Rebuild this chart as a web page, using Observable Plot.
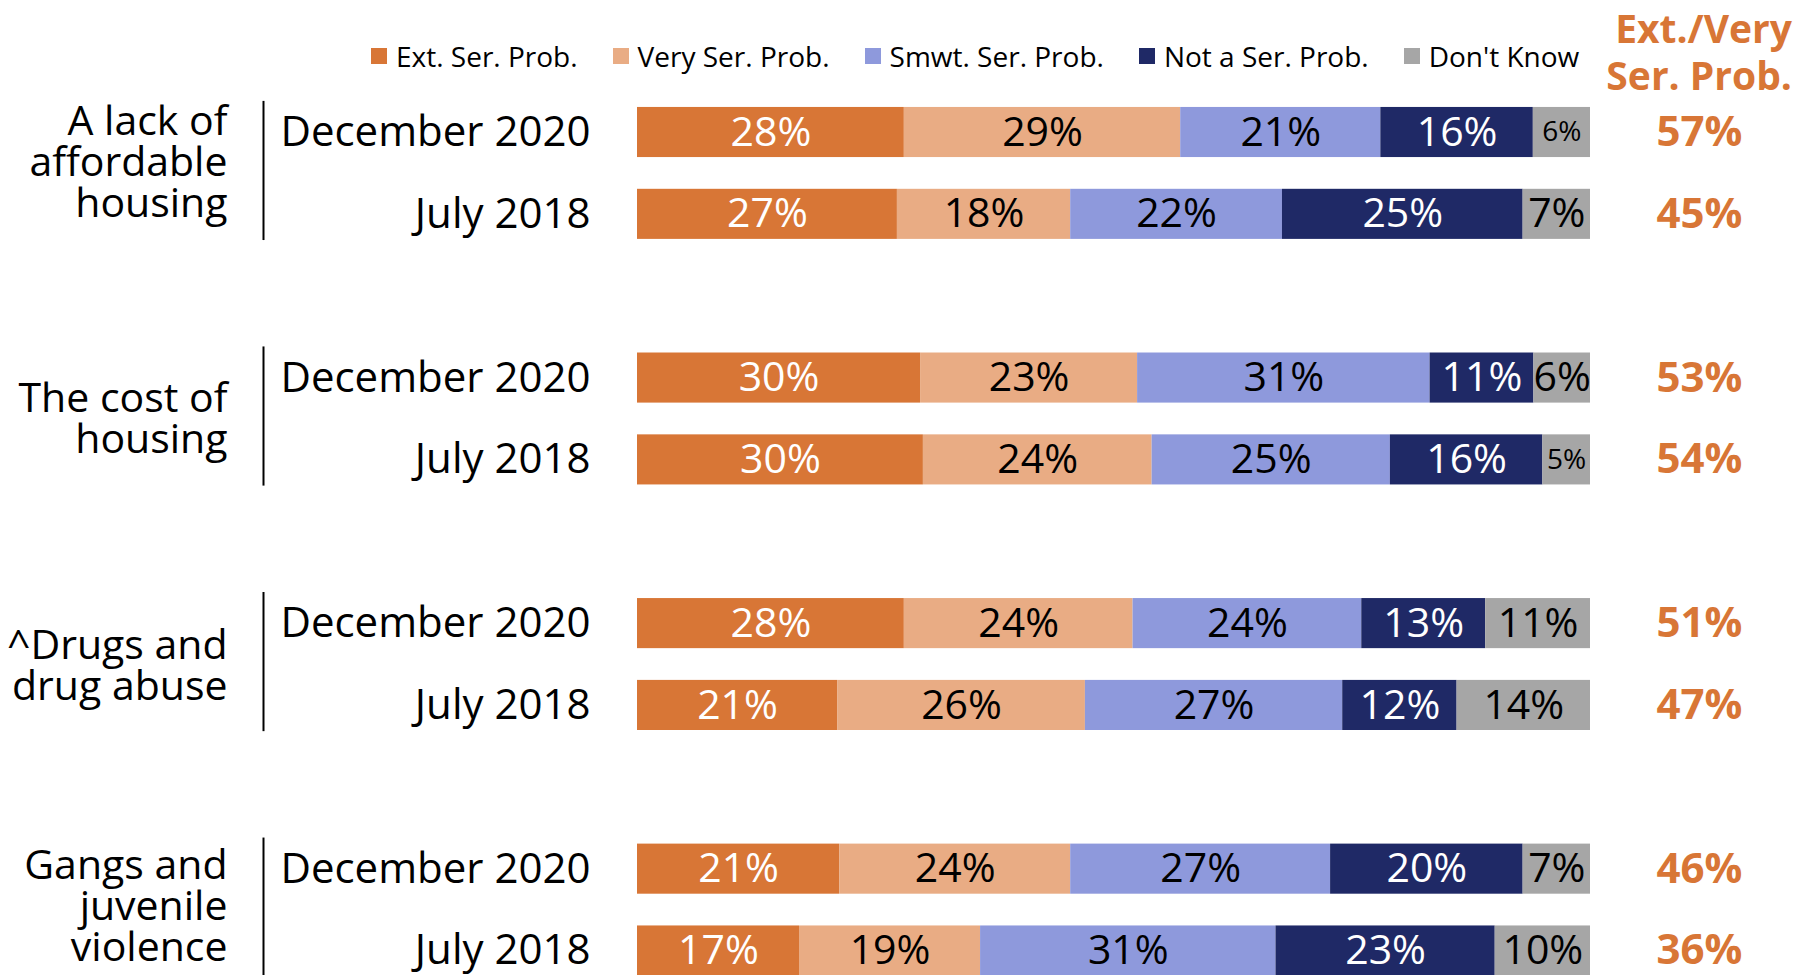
<!DOCTYPE html>
<html><head><meta charset="utf-8">
<script src="https://cdn.jsdelivr.net/npm/d3@7"></script>
<script src="https://cdn.jsdelivr.net/npm/@observablehq/plot@0.6"></script>
<style>
body{margin:0;background:#fff;font-family:"Open Sans",sans-serif;}
#wrap{position:relative;width:1800px;height:975px;overflow:hidden;}
#chart{position:absolute;left:0;top:0;}
#legend{position:absolute;left:371px;top:37px;display:flex;align-items:center;gap:35px;font-size:28px;line-height:38px;color:#000;}
.item{display:flex;align-items:center;white-space:nowrap;}
.sw{width:16px;height:16px;margin-right:9px;flex:none;}
#hdr{position:absolute;right:8px;top:4px;text-align:right;font-weight:700;font-size:39px;line-height:47px;color:#D87636;}
</style></head><body>
<div id="wrap"><div id="chart"></div><div id="legend"></div><div id="hdr">Ext./Very<br>Ser. Prob.</div></div>
<script>
// ---- data ----
const categories = ["A lack of\naffordable\nhousing", "The cost of\nhousing", "^Drugs and\ndrug abuse", "Gangs and\njuvenile\nviolence"];
const waves = ["December 2020", "July 2018"];
const series = ["Ext. Ser. Prob.", "Very Ser. Prob.", "Smwt. Ser. Prob.", "Not a Ser. Prob.", "Don't Know"];
// rows in order: cat0 Dec, cat0 Jul, cat1 Dec, cat1 Jul, ...
const extSer  = [28, 27, 30, 30, 28, 21, 21, 17];
const verySer = [29, 18, 23, 24, 24, 26, 24, 19];
const smwtSer = [21, 22, 31, 25, 24, 27, 27, 31];
const notSer  = [16, 25, 11, 16, 13, 12, 20, 23];
const dontKnow = [6, 7, 6, 5, 11, 14, 7, 10];
const extVery = [57, 45, 53, 54, 51, 47, 46, 36];

// ---- styles ----
const colors = ["#D87636", "#E9AC84", "#8E99DC", "#1F2966", "#A6A6A6"];
const labelColors = ["white", "black", "black", "white", "black"];
const smallLabels = new Set(["0-4", "3-4"]); // row-series with shrunk label
const orange = "#D87636";
const catLabelDy = [-11, 0, 2, -3];

// ---- build table ----
const valueSets = [extSer, verySer, smwtSer, notSer, dontKnow];
const rows = [];
const segs = [];
for (let r = 0; r < extSer.length; r++) {
  const g = Math.floor(r / 2), w = r % 2;
  const pos = g * 3 + w;
  rows.push({row: r, pos, wave: waves[w], total: extVery[r]});
  const vals = valueSets.map(v => v[r]);
  const sum = d3.sum(vals);
  let acc = 0;
  vals.forEach((v, s) => {
    segs.push({row: r, pos, series: series[s], si: s, value: v, x1: acc / sum, x2: (acc + v) / sum});
    acc += v;
  });
}
const groups = categories.map((c, g) => ({label: c, g, pos: g * 3 + 0.5, p1: g * 3 - 0.38, p2: g * 3 + 1 + 0.32}));

const half = 0.306;
const chart = Plot.plot({
  width: 1800,
  height: 975,
  marginLeft: 637,
  marginRight: 210,
  marginTop: 0,
  marginBottom: 0,
  style: {fontFamily: "Open Sans, sans-serif", background: "white"},
  x: {domain: [0, 1], axis: null},
  y: {domain: [0, 10], range: [132, 950.5], axis: null},
  color: {domain: series, range: colors},
  marks: [
    Plot.rectX(segs, {x1: "x1", x2: "x2", y1: d => d.pos - half, y2: d => d.pos + half, fill: "series"}),
    Plot.text(segs, {
      x: d => (d.x1 + d.x2) / 2, y: "pos", text: d => d.value + "%",
      fill: d => labelColors[d.si],
      fontSize: d => smallLabels.has(d.row + "-" + d.si) ? 28 : 41
    }),
    Plot.text(rows, {y: "pos", text: "wave", frameAnchor: "left", textAnchor: "end", dx: -47, fontSize: 42, fill: "black"}),
    Plot.text(rows, {y: "pos", text: d => d.total + "%", frameAnchor: "right", textAnchor: "middle", dx: 109, fontSize: 42, fontWeight: 700, fill: orange}),
    ...groups.map(gr => Plot.text([gr], {y: "pos", text: "label", frameAnchor: "left", textAnchor: "end", lineAnchor: "middle", lineHeight: 1.0, dx: -410, dy: catLabelDy[gr.g], fontSize: 41, fill: "black"})),
    Plot.ruleX(groups, {x: d => 0, y1: "p1", y2: "p2", dx: -374, stroke: "black", strokeWidth: 2})
  ]
});
document.getElementById("chart").appendChild(chart);

// legend
const leg = document.getElementById("legend");
series.forEach((s, i) => {
  const it = document.createElement("div");
  it.className = "item";
  const sw = document.createElement("span");
  sw.className = "sw";
  sw.style.background = colors[i];
  const t = document.createElement("span");
  t.textContent = s;
  it.appendChild(sw); it.appendChild(t);
  leg.appendChild(it);
});
</script>
</body></html>
